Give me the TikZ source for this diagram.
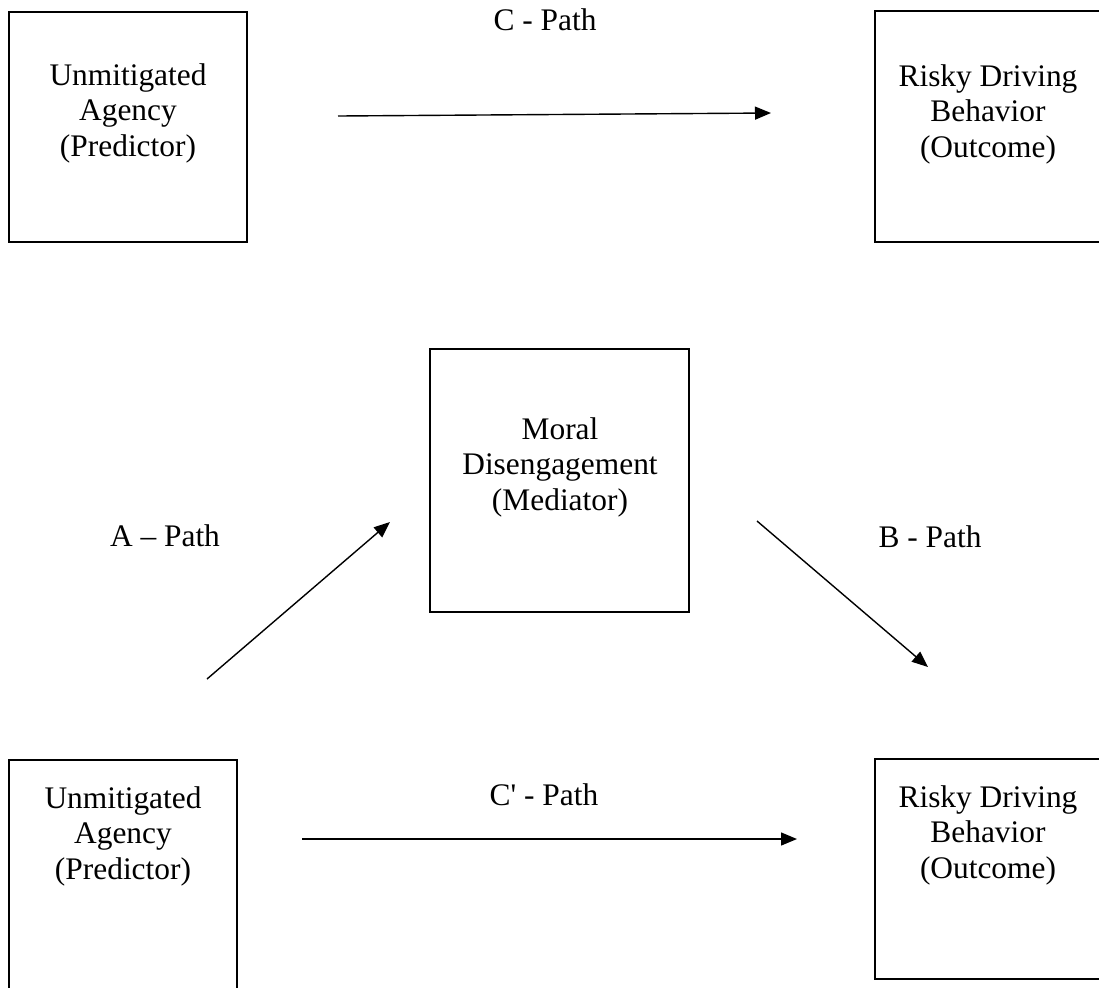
\documentclass[tikz,border=0pt]{standalone}
\usepackage{fontspec}
\setmainfont{Liberation Serif}
\usetikzlibrary{arrows.meta,positioning}

\begin{document}
\begin{tikzpicture}[x=0.5pt, y=-0.5pt,
    box/.style={rectangle, draw, line width=0.9pt, inner sep=0pt},
    boxtext/.style={align=center, inner sep=0pt, font=\fontsize{15.7}{17.75}\selectfont},
    pathlabel/.style={inner sep=0pt, font=\fontsize{15.7}{17.75}\selectfont},
    line/.style={draw, line width=0.7pt, -{Triangle[length=8pt, width=6.5pt]}}]

    \clip (0,0) rectangle (1099,987);

    % Total effect (top)
    \node [box, minimum width=119pt, minimum height=115pt] (predTop) at (128,127) {};
    \node [boxtext] (predTopText) at (128,113) {Unmitigated\\Agency\\(Predictor)};

    \node [box, minimum width=119pt, minimum height=115.5pt] (outTop) at (994,126.5) {};
    \node [boxtext] (outTopText) at (988,114) {Risky Driving\\Behavior\\(Outcome)};

    \node [pathlabel] (cLabel) at (545,20) {C - Path};

    % Mediation model (bottom)
    \node [box, minimum width=129.5pt, minimum height=131.5pt] (mediator) at (559.5,480.5) {};
    \node [boxtext] (mediatorText) at (560,467) {Moral\\Disengagement\\(Mediator)};

    \node [box, minimum width=114pt, minimum height=115.5pt] (predBot) at (123,875.5) {};
    \node [boxtext] (predBotText) at (123,836) {Unmitigated\\Agency\\(Predictor)};

    \node [box, minimum width=119pt, minimum height=110pt] (outBot) at (994,869) {};
    \node [boxtext] (outBotText) at (988,835) {Risky Driving\\Behavior\\(Outcome)};

    \node [pathlabel] (aLabel) at (165,536) {A -- Path};
    \node [pathlabel] (bLabel) at (930,537) {B - Path};
    \node [pathlabel] (cpLabel) at (544,795) {C\textquotesingle{} - Path};

    % Arrow ends
    \coordinate (cFrom) at (338,116);
    \coordinate (cTo) at (771,113);
    \coordinate (aFrom) at (207,679);
    \coordinate (aTo) at (390,522);
    \coordinate (bFrom) at (757,521);
    \coordinate (bTo) at (928,667);
    \coordinate (cpFrom) at (302,839);
    \coordinate (cpTo) at (797,839);

    % Paths
    \path [line] (cFrom) -- (cTo);
    \path [line] (aFrom) -- (aTo);
    \path [line] (bFrom) -- (bTo);
    \path [line] (cpFrom) -- (cpTo);

\end{tikzpicture}
\end{document}
